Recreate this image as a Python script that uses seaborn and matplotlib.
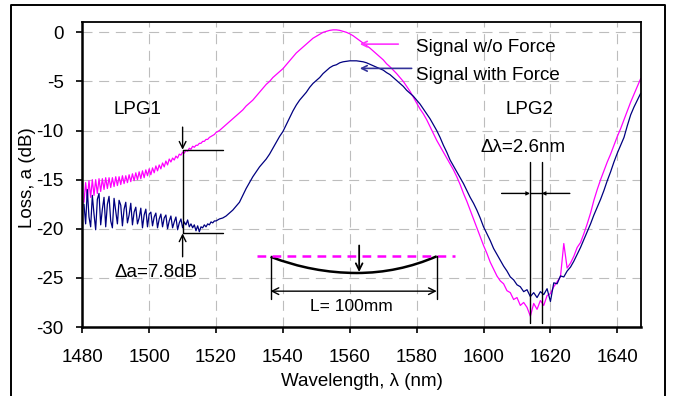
import matplotlib
matplotlib.use('Agg')
import matplotlib.pyplot as plt
import numpy as np
import pandas as pd
import seaborn as sns
from matplotlib.lines import Line2D
from matplotlib.path import Path
from matplotlib.patches import PathPatch

# wavelength grid of the trace (nm): fine in the noisy LPG1 band, 1 nm after
wl_fine = np.arange(1480.5, 1520.01, 0.5)
wl_coarse = np.arange(1521, 1647.01, 1.0)
wavelength = np.concatenate([wl_fine, wl_coarse])

# Signal w/o Force (dB)
loss_no_force_fine = [
    -17.3, -15.3, -17.0, -15.1, -16.8, -15.0, -16.6, -15.0, -16.4, -14.9,
    -16.2, -14.9, -16.0, -14.8, -15.9, -14.8, -15.8, -14.8, -15.7, -14.7,
    -15.6, -14.7, -15.5, -14.6, -15.4, -14.6, -15.3, -14.5, -15.2, -14.4,
    -15.1, -14.3, -15.0, -14.2, -14.9, -14.1, -14.8, -14.0, -14.6, -13.9,
    -14.5, -13.8, -14.3, -13.6, -14.1, -13.5, -13.9, -13.3, -13.7, -13.1,
    -13.5, -12.9, -13.2, -12.8, -13.0, -12.6, -12.8, -12.4, -12.5, -12.2,
    -12.3, -12.0, -12.1, -11.8, -11.9, -11.6, -11.7, -11.5, -11.5, -11.3,
    -11.3, -11.1, -11.1, -10.9, -10.9, -10.7, -10.6, -10.5, -10.4, -10.2,
]
loss_no_force_coarse = [
    -10.0, -9.7, -9.4, -9.1, -8.8, -8.5, -8.2, -7.9, -7.5, -7.2,
    -6.9, -6.5, -6.1, -5.7, -5.3, -5.0, -4.6, -4.3, -4.0, -3.7,
    -3.3, -2.9, -2.5, -2.1, -1.8, -1.5, -1.2, -0.9, -0.6, -0.4,
    -0.2, 0.0, 0.1, 0.2, 0.25, 0.25, 0.2, 0.1, 0.0, -0.15,
    -0.35, -0.6, -0.85, -1.1, -1.35, -1.6, -1.9, -2.2, -2.5, -2.8,
    -3.2, -3.5, -3.85, -4.2, -4.6, -5.0, -5.5, -6.0, -6.6, -7.2,
    -7.8, -8.3, -8.9, -9.6, -10.3, -11.0, -11.6, -12.2, -12.8, -13.4,
    -14.0, -14.7, -15.5, -16.4, -17.2, -18.1, -19.0, -19.9, -20.8, -21.7,
    -22.5, -23.4, -24.1, -24.8, -25.3, -25.6, -26.3, -26.5, -27.2, -27.0,
    -27.8, -27.5, -28.0, -28.9, -27.6, -28.2, -27.3, -27.8, -26.8, -26.6,
    -25.9, -25.4, -24.9, -21.5, -24.0, -23.5, -22.8, -21.9, -21.4, -20.5,
    -19.5, -18.4, -17.1, -16.0, -15.0, -14.1, -13.2, -12.4, -11.5, -10.6,
    -9.8, -8.9, -8.0, -7.1, -6.3, -5.5, -4.7,
]

# Signal with Force (dB)
loss_force_fine = [
    -17.5, -19.5, -16.0, -18.8, -19.8, -16.6, -18.5, -20.1, -17.0, -16.4,
    -19.6, -18.0, -16.8, -19.8, -17.5, -16.7, -19.2, -19.9, -16.9, -18.2,
    -19.5, -17.1, -17.6, -19.7, -18.0, -17.3, -19.4, -18.6, -17.4, -19.6,
    -18.3, -17.8, -19.5, -18.9, -17.9, -19.9, -18.6, -18.0, -19.8, -18.5,
    -18.3, -19.7, -18.8, -18.4, -19.9, -19.0, -18.5, -19.8, -18.9, -18.6,
    -20.0, -19.2, -18.7, -19.9, -19.3, -18.8, -20.1, -19.4, -19.0, -19.9,
    -19.3, -19.6, -19.1, -19.8, -19.5, -19.9, -19.6, -20.2, -19.7, -20.3,
    -19.8, -19.9, -19.6, -19.8, -19.5, -19.6, -19.3, -19.4, -19.2, -19.2,
]
loss_force_coarse = [
    -19.0, -18.9, -18.7, -18.4, -18.1, -17.7, -17.3, -16.6, -15.9, -15.3,
    -14.7, -14.2, -13.7, -13.3, -12.9, -12.4, -11.8, -11.2, -10.6, -10.1,
    -9.4, -8.7, -8.0, -7.4, -6.9, -6.5, -6.1, -5.6, -5.2, -4.9,
    -4.6, -4.2, -3.9, -3.6, -3.4, -3.3, -3.1, -3.0, -2.95, -2.9,
    -2.9, -2.9, -2.95, -3.0, -3.1, -3.25, -3.4, -3.55, -3.7, -3.85,
    -4.1, -4.3, -4.6, -4.9, -5.2, -5.5, -5.9, -6.2, -6.5, -6.9,
    -7.3, -7.8, -8.3, -8.8, -9.4, -10.0, -10.7, -11.5, -12.2, -13.0,
    -13.6, -14.2, -14.8, -15.4, -16.1, -16.8, -17.4, -18.1, -18.9, -19.8,
    -20.5, -21.2, -22.0, -22.6, -23.2, -23.8, -24.3, -24.9, -25.2, -25.7,
    -25.9, -26.4, -26.2, -26.9, -26.5, -27.0, -26.4, -26.7, -26.1, -27.4,
    -25.5, -25.6, -24.8, -24.9, -24.3, -23.9, -23.3, -22.6, -21.9, -21.1,
    -20.3, -19.5, -18.6, -17.8, -17.0, -16.1, -15.1, -14.2, -13.2, -12.3,
    -11.5, -10.7, -9.5, -8.4, -7.6, -6.9, -6.2,
]

series_names = ['Signal w/o Force', 'Signal with Force']
series_colors = {'Signal w/o Force': '#ff00ff', 'Signal with Force': '#000080'}
x_ticks = [1480, 1500, 1520, 1540, 1560, 1580, 1600, 1620, 1640]
y_ticks = [-30, -25, -20, -15, -10, -5, 0]

df = pd.concat([
    pd.DataFrame({'wavelength': wavelength,
                  'loss': loss_no_force_fine + loss_no_force_coarse,
                  'series': series_names[0]}),
    pd.DataFrame({'wavelength': wavelength,
                  'loss': loss_force_fine + loss_force_coarse,
                  'series': series_names[1]}),
], ignore_index=True)

sns.set_theme(style='white')
plt.rcParams['font.family'] = ['Liberation Sans', 'DejaVu Sans']
plt.rcParams['axes.unicode_minus'] = False

fig = plt.figure(figsize=(6.74, 3.96), dpi=100)
ax = fig.add_axes([0.1221, 0.1742, 0.8285, 0.7702])

sns.lineplot(ax=ax, data=df, x='wavelength', y='loss', hue='series',
             hue_order=series_names, palette=series_colors,
             estimator=None, sort=False, linewidth=0.9, legend=False)

ax.set_xlim(1480, 1647)
ax.set_ylim(-30, 1.05)
ax.set_xticks(x_ticks)
ax.set_yticks(y_ticks)
ax.grid(True, color='#bdbdbd', linestyle=(0, (9, 6)), linewidth=0.8)
for side in ['left', 'bottom']:
    ax.spines[side].set_linewidth(1.8)
for side in ['top', 'right']:
    ax.spines[side].set_linewidth(1.3)
for s in ax.spines.values():
    s.set_color('black')
ax.tick_params(axis='both', direction='out', length=4.5, width=1.2,
               color='black', labelsize=13.5, labelcolor='black',
               left=True, bottom=True)
ax.tick_params(axis='x', pad=11)
ax.tick_params(axis='y', pad=9)

ax.set_xlabel('Wavelength, λ (nm)', fontsize=13.5, color='black')
ax.set_ylabel('Loss, a (dB)', fontsize=13.5, color='black')
ax.xaxis.set_label_coords(0.5, -0.15)
ax.yaxis.set_label_coords(-0.083, 0.49)

txt = dict(fontsize=13.5, color='black')
ax.text(1496.4, -7.9, 'LPG1', ha='center', va='center', **txt)
ax.text(1613.8, -7.9, 'LPG2', ha='center', va='center', **txt)
ax.text(1502.0, -24.4, 'Δa=7.8dB', ha='center', va='center', **txt)
ax.text(1611.9, -11.7, 'Δλ=2.6nm', ha='center', va='center', **txt)
ax.text(1579.8, -1.5, 'Signal w/o Force', ha='left', va='center', **txt)
ax.text(1579.8, -4.35, 'Signal with Force', ha='left', va='center', **txt)
ax.text(1560.6, -27.95, 'L= 100mm', ha='center', va='center',
        fontsize=12.5, color='black')

# legend arrows
ax.annotate('', xy=(1563, -1.2), xytext=(1574.5, -1.2),
            arrowprops=dict(arrowstyle='->', color='#ff33ff', lw=1.2,
                            shrinkA=0, shrinkB=0, mutation_scale=10))
ax.annotate('', xy=(1563, -3.67), xytext=(1578.5, -3.67),
            arrowprops=dict(arrowstyle='->', color='#333399', lw=1.2,
                            shrinkA=0, shrinkB=0, mutation_scale=10))

# delta a marker
arrow_k = dict(arrowstyle='->', color='black', lw=1.0, shrinkA=0, shrinkB=0,
               mutation_scale=12)
ax.plot([1510, 1510], [-11.95, -20.47], color='black', lw=1.0)
ax.annotate('', xy=(1510, -11.95), xytext=(1510, -9.65), arrowprops=arrow_k)
ax.annotate('', xy=(1510, -20.47), xytext=(1510, -22.85), arrowprops=arrow_k)
ax.plot([1510, 1522.2], [-11.95, -11.95], color='black', lw=1.0)
ax.plot([1510, 1522.2], [-20.47, -20.47], color='black', lw=1.0)

# delta lambda marker
ax.plot([1613.9, 1613.9], [-13.2, -29.6], color='black', lw=1.0)
ax.plot([1617.4, 1617.4], [-13.2, -29.6], color='black', lw=1.0)
small_k = dict(arrowstyle='->', color='black', lw=1.0, shrinkA=0, shrinkB=0,
               mutation_scale=5)
ax.annotate('', xy=(1613.9, -16.4), xytext=(1605.4, -16.4), arrowprops=small_k)
ax.annotate('', xy=(1617.4, -16.4), xytext=(1625.8, -16.4), arrowprops=small_k)
ax.plot([1613.9, 1617.4], [-16.4, -16.4], color='black', lw=1.0)

# bent fibre sketch
ax.plot([1532.1, 1591.5], [-22.8, -22.8], color='#ff00ff', lw=1.8,
        linestyle=(0, (3.5, 2.5)))
beam = Path([(1536.3, -22.85), (1549.0, -24.5), (1562.1, -24.5),
             (1574.5, -24.5), (1586.0, -22.8)],
            [Path.MOVETO, Path.CURVE3, Path.CURVE3, Path.CURVE3, Path.CURVE3])
ax.add_patch(PathPatch(beam, facecolor='none', edgecolor='black', lw=1.8))
ax.plot([1536.3, 1536.3], [-22.85, -27.1], color='black', lw=1.0)
ax.plot([1586.0, 1586.0], [-22.8, -27.1], color='black', lw=1.0)
ax.annotate('', xy=(1536.3, -26.35), xytext=(1586.0, -26.35),
            arrowprops=dict(arrowstyle='<->', color='black', lw=1.0,
                            shrinkA=0, shrinkB=0, mutation_scale=12))
ax.annotate('', xy=(1562.8, -24.4), xytext=(1562.8, -21.7),
            arrowprops=dict(arrowstyle='->', color='black', lw=1.3,
                            shrinkA=0, shrinkB=0, mutation_scale=12))

# outer frame of the figure
fx0, fx1, fy1 = 11.3 / 674, 665.0 / 674, 1 - 5.0 / 396
fig.add_artist(Line2D([fx0, fx0, fx1, fx1], [0, fy1, fy1, 0],
                      transform=fig.transFigure, color='black', lw=1.4))

fig.savefig('out.png', dpi=100)
